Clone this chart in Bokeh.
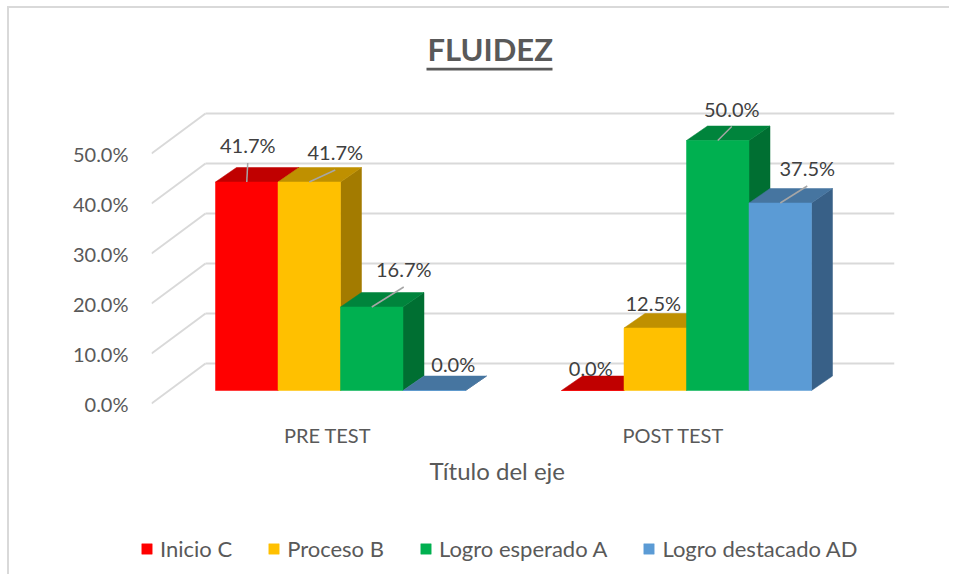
from bokeh.plotting import figure
from bokeh.layouts import column
from bokeh.models import (Range1d, LinearAxis, FixedTicker, NumeralTickFormatter,
                          Legend, LegendItem, Title)
from bokeh.core.properties import value
from bokeh.embed import file_html
from bokeh.resources import INLINE

# ---------------- data ----------------
chart_title = "FLUIDEZ"
x_axis_title = "Título del eje"
categories = ["PRE TEST", "POST TEST"]
series_names = ["Inicio C", "Proceso B", "Logro esperado A", "Logro destacado AD"]
inicio_c = [0.417, 0.000]
proceso_b = [0.417, 0.125]
logro_esperado_a = [0.167, 0.500]
logro_destacado_ad = [0.000, 0.375]
y_ticks = [0.0, 0.1, 0.2, 0.3, 0.4, 0.5]

series_values = [inicio_c, proceso_b, logro_esperado_a, logro_destacado_ad]

# ---------------- style ----------------
front_colors = ["#FF0000", "#FFC000", "#00B050", "#5B9BD5"]
top_colors = ["#C00000", "#BF9000", "#00843C", "#4675A0"]
side_colors = ["#A00000", "#A37B00", "#006F32", "#386087"]
TXT = "#595959"
FONT = "Lato"

# data-label offsets in px from the front-top centre of each bar
label_dx = [[1, -2], [26, -2], [32, 14], [19, 27]]
label_dy = [[-37, -23], [-30, -25], [-38, -32], [-27, -35]]
leader = [[True, False], [True, False], [True, True], [False, True]]

# ---------------- geometry (page pixels) ----------------
OX, OY = 9, 8                            # content origin on the page
W = 940
H1, H2 = 492, 74                         # chart part, legend part
FL, FR, FT, FB = 151, 894, 67, 405       # frame edges (page px)
PXX = 346.0                              # px per category step
PXY = 500.0                              # px per 100 %
GROUP0 = 340.0                           # px x of first group centre
BASE = 390.0                             # px y of bar base
FRONT_SHIFT_X = -13.0                    # floor front vs bar plane
FRONT_SHIFT_Y = 13.0
BACK_LEFT = 205.0                        # back wall left edge px
BACK_UP = 27.0                           # back wall above bar plane px
BAR_W = 62.5 / PXX
DEPTH_X = 21.0 / PXX
DEPTH_Y = 14.5 / PXY
UL_LEFT, UL_RIGHT, UL_TOP, UL_BOTTOM = 426.0, 552.0, 67.0, 70.0   # title underline
LEG_LEFT, LEG_BOTTOM = 140.0, 562.0      # legend box (page px)


def dx(px):
    return (px - GROUP0) / PXX


def dy(py):
    return (BASE - py) / PXY


x0, x1 = dx(FL), dx(FR)
y0, y1 = dy(FB), dy(FT)

p = figure(width=W, height=H1, output_backend="svg", toolbar_location=None,
           x_range=Range1d(x0, x1), y_range=Range1d(y0, y1),
           x_axis_location=None, y_axis_location=None,
           min_border_left=FL - OX, min_border_right=W - (FR - OX),
           min_border_top=FT - OY, min_border_bottom=H1 - (FB - OY))
p.frame_align = False
p.outline_line_color = None
p.background_fill_color = "white"
p.border_fill_color = "white"
p.grid.visible = False

fx = FRONT_SHIFT_X / PXX
fy = FRONT_SHIFT_Y / PXY
p.extra_x_ranges = {"front": Range1d(x0 - fx, x1 - fx)}
p.extra_y_ranges = {"front": Range1d(y0 + fy, y1 + fy)}

# ---------------- 3D gridlines ----------------
back_x = dx(BACK_LEFT)
up = BACK_UP / PXY
p.segment(x0=[back_x] * len(y_ticks), y0=[v + up for v in y_ticks],
          x1=[x1] * len(y_ticks), y1=[v + up for v in y_ticks],
          line_color="#D9D9D9", line_width=2)
p.segment(x0=[x0] * len(y_ticks), y0=[v - fy for v in y_ticks],
          x1=[back_x] * len(y_ticks), y1=[v + up for v in y_ticks],
          line_color="#D9D9D9", line_width=2)

# ---------------- 3D bars ----------------
lab_x, lab_y, lab_t, lab_ox, lab_oy = [], [], [], [], []
lead_x0, lead_y0, lead_x1, lead_y1 = [], [], [], []
bar_lefts, bar_rights = [], []
for i, (name, vals) in enumerate(zip(series_names, series_values)):
    lefts = [c + (i - 2) * BAR_W for c in range(len(categories))]
    rights = [l + BAR_W for l in lefts]
    bar_lefts.append(lefts)
    bar_rights.append(rights)
    side_xs = [[r, r, r + DEPTH_X, r + DEPTH_X] for r in rights]
    side_ys = [[0, v, v + DEPTH_Y, DEPTH_Y] for v in vals]
    top_xs = [[l, r, r + DEPTH_X, l + DEPTH_X] for l, r in zip(lefts, rights)]
    top_ys = [[v, v, v + DEPTH_Y, v + DEPTH_Y] for v in vals]
    p.patches(side_xs, side_ys, fill_color=side_colors[i], line_color=side_colors[i], line_width=0.5)
    p.patches(top_xs, top_ys, fill_color=top_colors[i], line_color=top_colors[i], line_width=0.5)
    p.quad(left=lefts, right=rights, bottom=[0] * len(vals), top=vals,
           fill_color=front_colors[i], line_color=front_colors[i], line_width=0.5)
    for c, v in enumerate(vals):
        xc = lefts[c] + BAR_W / 2
        lab_x.append(xc)
        lab_y.append(v)
        lab_t.append(f"{v:.1%}")
        lab_ox.append(label_dx[i][c])
        lab_oy.append(label_dy[i][c])
        if leader[i][c]:
            lead_x0.append(xc)
            lead_y0.append(v)
            lead_x1.append(xc + label_dx[i][c] / PXX)
            lead_y1.append(v - (label_dy[i][c] + 18) / PXY)

p.segment(x0=lead_x0, y0=lead_y0, x1=lead_x1, y1=lead_y1,
          line_color="#A6A6A6", line_width=1.5)
p.text(x=lab_x, y=lab_y, text=lab_t, x_offset=lab_ox, y_offset=lab_oy,
       text_align="center", text_baseline="middle", text_font=value(FONT),
       text_font_size="20px", text_color="#404040")

# title underline
p.quad(left=[dx(UL_LEFT)], right=[dx(UL_RIGHT)], top=[dy(UL_TOP)], bottom=[dy(UL_BOTTOM)],
       fill_color=TXT, line_color=None)

# ---------------- axes ----------------
yaxis = LinearAxis(y_range_name="front", ticker=FixedTicker(ticks=y_ticks),
                   formatter=NumeralTickFormatter(format="0.0%"),
                   axis_line_color=None, major_tick_line_color=None,
                   minor_tick_line_color=None, major_label_standoff=17,
                   major_label_text_font=FONT, major_label_text_font_size="20px",
                   major_label_text_color=TXT)
p.add_layout(yaxis, "left")

xaxis = LinearAxis(x_range_name="front", ticker=FixedTicker(ticks=list(range(len(categories)))),
                   major_label_overrides={i: c for i, c in enumerate(categories)},
                   axis_line_color=None, major_tick_line_color=None,
                   minor_tick_line_color=None, major_label_standoff=11,
                   major_label_text_font=FONT, major_label_text_font_size="20px",
                   major_label_text_color=TXT)
p.add_layout(xaxis, "below")

p.add_layout(Title(text=x_axis_title, align="left", offset=278, standoff=8,
                   text_font=FONT, text_font_size="24px", text_font_style="normal",
                   text_color=TXT), "below")

p.title.text = chart_title
p.title.align = "left"
p.title.offset = 276
p.title.standoff = 0
p.title.text_font = FONT
p.title.text_font_size = "31px"
p.title.text_font_style = "bold"
p.title.text_color = TXT

# ---------------- legend (own strip below the chart) ----------------
p2 = figure(width=W, height=H2, output_backend="svg", toolbar_location=None,
            x_range=Range1d(0, 1), y_range=Range1d(0, 1),
            x_axis_location=None, y_axis_location=None,
            min_border_left=0, min_border_right=0, min_border_top=0, min_border_bottom=0)
p2.frame_align = False
p2.outline_line_color = None
p2.background_fill_color = "white"
p2.border_fill_color = "white"
p2.grid.visible = False
items = []
for i, (name, vals) in enumerate(zip(series_names, series_values)):
    # hidden copy of each series, used only as the legend swatch
    r = p2.quad(left=bar_lefts[i], right=bar_rights[i], bottom=[0] * len(vals), top=vals,
                fill_color=front_colors[i], line_color=front_colors[i], line_width=0.5,
                visible=False)
    items.append(LegendItem(label=name, renderers=[r]))
legend = Legend(items=items, orientation="horizontal",
                location=(LEG_LEFT - OX, (OY + H1 + H2) - LEG_BOTTOM),
                padding=0, margin=0, spacing=35,
                label_standoff=7, glyph_width=13, glyph_height=13,
                label_text_font=FONT, label_text_font_size="22px",
                label_text_color=TXT, background_fill_alpha=0,
                border_line_color=None, inactive_fill_alpha=0)
p2.add_layout(legend, "center")

layout = column(p, p2, spacing=0)
layout.styles = {"margin-left": "7px", "margin-top": "6px",
                 "border-left": "2px solid #D9D9D9", "border-top": "2px solid #D9D9D9"}

open("out.html", "w").write(file_html(layout, INLINE))
